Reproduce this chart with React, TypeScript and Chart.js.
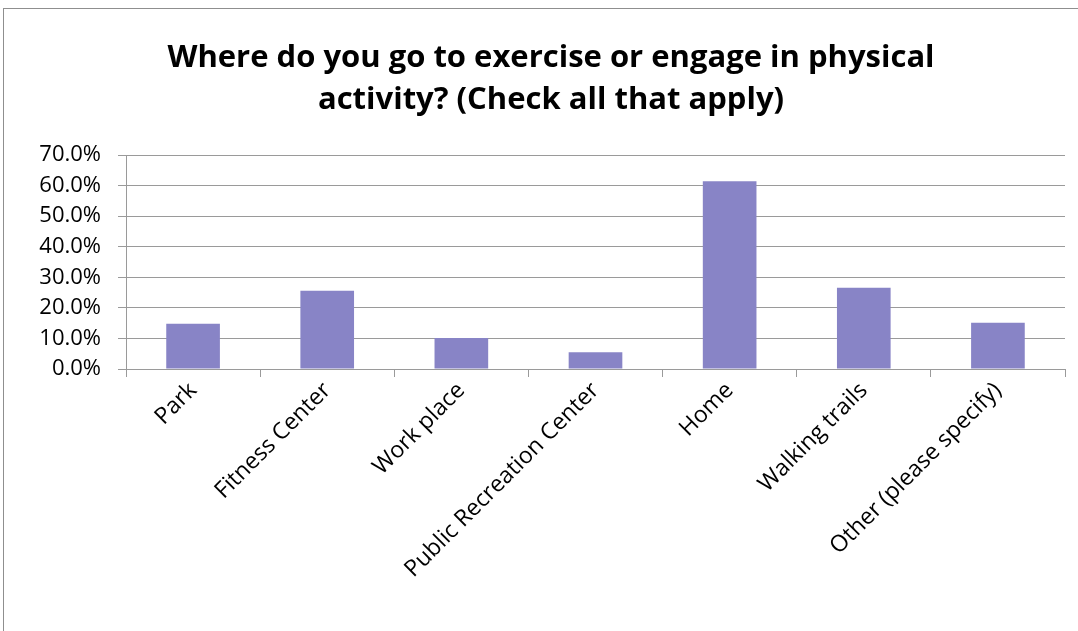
import React, { useEffect, useRef } from "react";
import { Chart, registerables } from "chart.js";

Chart.register(...registerables);

const categories = [
  "Park",
  "Fitness Center",
  "Work place",
  "Public Recreation Center",
  "Home",
  "Walking trails",
  "Other (please specify)",
];
const percentValues = [14.8, 25.6, 10.1, 5.5, 61.4, 26.6, 15.1];
const titleLines = [
  "Where do you go to exercise or engage in physical",
  "activity? (Check all that apply)",
];
const yMin = 0;
const yMax = 70;
const yStep = 10;

export default function App() {
  const ref = useRef<HTMLCanvasElement | null>(null);

  useEffect(() => {
    if (!ref.current) return;
    const chart = new Chart(ref.current, {
      type: "bar",
      data: {
        labels: categories,
        datasets: [
          {
            data: percentValues,
            backgroundColor: "#8884c6",
            borderWidth: 0,
            barPercentage: 0.4,
            categoryPercentage: 1,
          },
        ],
      },
      options: {
        animation: false,
        responsive: false,
        maintainAspectRatio: false,
        layout: { padding: { left: 37, right: 13, top: 0, bottom: 0 } },
        plugins: {
          legend: { display: false },
          tooltip: { enabled: false },
          title: {
            display: true,
            text: titleLines,
            color: "#000",
            font: { family: "'Open Sans'", size: 31, weight: "bold", lineHeight: 1.355 },
            padding: { top: 37, bottom: 34 },
          },
        },
        scales: {
          x: {
            grid: {
              offset: true,
              drawOnChartArea: false,
              drawTicks: true,
              tickLength: 8,
              color: "#9a9a9a",
            },
            border: { color: "#9a9a9a" },
            ticks: {
              color: "#000",
              font: { family: "'Open Sans'", size: 23 },
              minRotation: 45,
              maxRotation: 45,
              padding: 0,
              autoSkip: false,
            },
            afterFit: (scale: any) => {
              scale.height = 262;
            },
          },
          y: {
            min: yMin,
            max: yMax,
            grid: { color: "#9a9a9a", tickLength: 8 },
            border: { color: "#9a9a9a" },
            ticks: {
              stepSize: yStep,
              color: "#000",
              padding: 17,
              font: { family: "'Open Sans'", size: 22 },
              callback: (v: any) => Number(v).toFixed(1) + "%",
            },
            afterFit: (scale: any) => {
              scale.width = 89;
            },
          },
        },
      },
    });
    return () => chart.destroy();
  }, []);

  return (
    <div style={{ position: "fixed", left: 0, top: 0, width: 1078, height: 631, background: "#fff", overflow: "hidden" }}>
      <div
        style={{
          position: "absolute",
          left: 3,
          top: 8,
          width: 1100,
          height: 700,
          border: "1px solid #8f8f8f",
          boxSizing: "border-box",
        }}
      />
      <canvas ref={ref} width={1078} height={631} style={{ position: "absolute", left: 0, top: 0 }} />
    </div>
  );
}
